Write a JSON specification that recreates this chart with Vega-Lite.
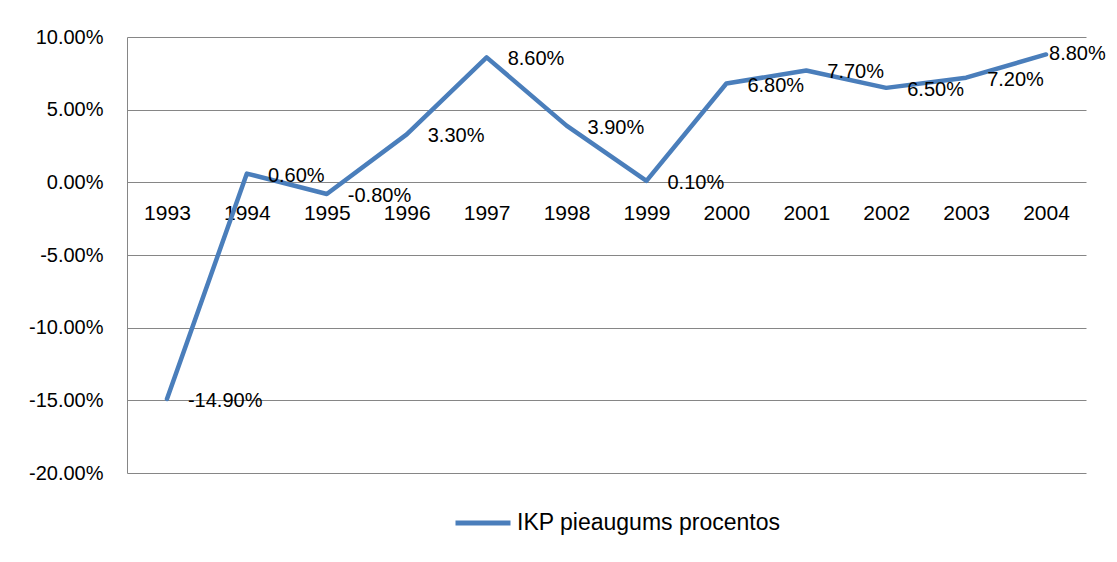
{
  "$schema": "https://vega.github.io/schema/vega-lite/v6.json",
  "width": 959,
  "height": 436,
  "autosize": {"type": "none"},
  "padding": {"left": 127, "top": 37, "right": 31, "bottom": 89},
  "background": "white",
  "config": {
    "view": {"stroke": null},
    "font": "Liberation Sans",
    "locale": {"number": {"decimal": ".", "thousands": ",", "grouping": [3], "currency": ["$", ""], "minus": "-"}},
    "axis": {"labelFont": "Liberation Sans", "labelFontSize": 20, "labelColor": "#000000"}
  },
  "data": {
    "values": [
      {"year": "1993", "value": -0.149, "series": "IKP pieaugums procentos"},
      {"year": "1994", "value": 0.006, "series": "IKP pieaugums procentos"},
      {"year": "1995", "value": -0.008, "series": "IKP pieaugums procentos"},
      {"year": "1996", "value": 0.033, "series": "IKP pieaugums procentos"},
      {"year": "1997", "value": 0.086, "series": "IKP pieaugums procentos"},
      {"year": "1998", "value": 0.039, "series": "IKP pieaugums procentos"},
      {"year": "1999", "value": 0.001, "series": "IKP pieaugums procentos"},
      {"year": "2000", "value": 0.068, "series": "IKP pieaugums procentos"},
      {"year": "2001", "value": 0.077, "series": "IKP pieaugums procentos"},
      {"year": "2002", "value": 0.065, "series": "IKP pieaugums procentos"},
      {"year": "2003", "value": 0.072, "series": "IKP pieaugums procentos"},
      {"year": "2004", "value": 0.088, "series": "IKP pieaugums procentos"}
    ]
  },
  "encoding": {
    "x": {
      "field": "year", "type": "ordinal",
      "scale": {"type": "point", "padding": 0.5},
      "axis": {"title": null, "domain": false, "ticks": false, "grid": false, "labelAngle": 0, "offset": -291, "labelPadding": 20, "labelFontSize": 21}
    },
    "y": {
      "field": "value", "type": "quantitative",
      "scale": {"domain": [-0.2, 0.1], "nice": false, "zero": false},
      "axis": {"title": null, "values": [-0.2, -0.15, -0.1, -0.05, 0, 0.05, 0.1], "format": ".2%", "ticks": false, "domain": true, "domainColor": "#868686", "grid": true, "gridColor": "#868686", "gridWidth": 1, "labelPadding": 24}
    }
  },
  "layer": [
    {
      "mark": {"type": "line", "strokeWidth": 4.5, "strokeCap": "round", "strokeJoin": "round"},
      "encoding": {
        "color": {
          "field": "series", "type": "nominal",
          "scale": {"range": ["#4a7ebb"]},
          "legend": {"title": null, "orient": "none", "legendX": 326, "legendY": 456, "symbolType": "stroke", "symbolSize": 3025, "symbolStrokeWidth": 5, "labelFontSize": 23, "labelFont": "Liberation Sans", "labelColor": "#000000", "labelOffset": 4, "labelLimit": 600}
        }
      }
    },
    {
      "transform": [{"filter": "datum.year != '2004'"}],
      "mark": {"type": "text", "align": "left", "baseline": "middle", "dx": 21, "dy": 2, "fontSize": 20, "font": "Liberation Sans", "color": "#000000"},
      "encoding": {"text": {"field": "value", "type": "quantitative", "format": ".2%"}}
    },
    {
      "transform": [{"filter": "datum.year == '2004'"}],
      "mark": {"type": "text", "align": "left", "baseline": "middle", "dx": 3, "dy": 0, "fontSize": 20, "font": "Liberation Sans", "color": "#000000"},
      "encoding": {"text": {"field": "value", "type": "quantitative", "format": ".2%"}}
    }
  ]
}
